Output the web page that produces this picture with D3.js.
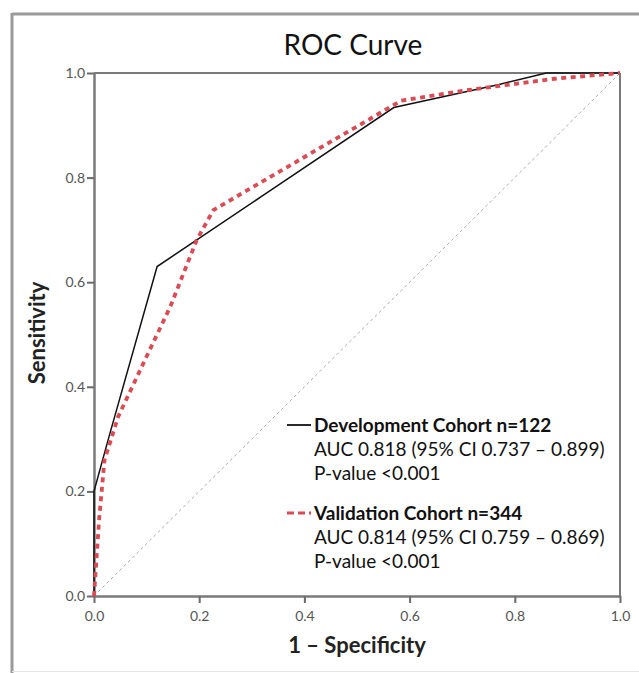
<!DOCTYPE html>
<html>
<head>
<meta charset="utf-8">
<script src="https://cdn.jsdelivr.net/npm/d3@7"></script>
<style>
  body { margin: 0; background: #fff; }
  text { font-family: Lato, "Open Sans", sans-serif; }
</style>
</head>
<body>
<div id="roc-chart"></div>
<script>
// ROC points (1 - specificity, sensitivity)
const devFpr = [0, 0, 0.03, 0.12, 0.32, 0.57, 0.77, 0.86, 1.0];
const devTpr = [0, 0.20, 0.31, 0.63, 0.765, 0.934, 0.978, 1.0, 1.0];

const valFpr = [0, 0.01, 0.02, 0.046, 0.10, 0.145, 0.195, 0.227, 0.584, 0.70, 0.875, 1.0];
const valTpr = [0, 0.15, 0.26, 0.343, 0.458, 0.553, 0.68, 0.738, 0.947, 0.966, 0.989, 1.0];

const tickValues = [0, 0.2, 0.4, 0.6, 0.8, 1.0];

const legendLines = [
  ['Development Cohort n=122', 'AUC 0.818 (95% CI 0.737 \u2013 0.899)', 'P-value <0.001'],
  ['Validation Cohort n=344', 'AUC 0.814 (95% CI 0.759 \u2013 0.869)', 'P-value <0.001']
];

const width = 639;
const height = 673;
const plot = { left: 94, right: 620, top: 73, bottom: 596 };

const svg = d3.select('#roc-chart')
  .append('svg')
  .attr('width', width)
  .attr('height', height);

// outer frame of the figure
svg.append('line')
  .attr('x1', 12).attr('y1', 13).attr('x2', 12).attr('y2', 673)
  .attr('stroke', '#9a9a9a').attr('stroke-width', 3);
svg.append('line')
  .attr('x1', 12).attr('y1', 14).attr('x2', 639).attr('y2', 14)
  .attr('stroke', '#9a9a9a').attr('stroke-width', 3);
svg.append('line')
  .attr('x1', 12).attr('y1', 671.5).attr('x2', 639).attr('y2', 671.5)
  .attr('stroke', '#e4e4e4').attr('stroke-width', 1);

const x = d3.scaleLinear().domain([0, 1]).range([plot.left, plot.right]);
const y = d3.scaleLinear().domain([0, 1]).range([plot.bottom, plot.top]);

// top and right frame of the plot
svg.append('line')
  .attr('x1', x(0)).attr('y1', y(1)).attr('x2', x(1)).attr('y2', y(1))
  .attr('stroke', '#7a7a7a').attr('stroke-width', 2);
svg.append('line')
  .attr('x1', x(1)).attr('y1', y(1)).attr('x2', x(1)).attr('y2', y(0))
  .attr('stroke', '#7a7a7a').attr('stroke-width', 2);

const xAxis = svg.append('g')
  .attr('transform', `translate(0,${plot.bottom})`)
  .call(d3.axisBottom(x).tickValues(tickValues).tickFormat(d3.format('.1f')).tickSize(7).tickSizeOuter(0));

const yAxis = svg.append('g')
  .attr('transform', `translate(${plot.left},0)`)
  .call(d3.axisLeft(y).tickValues(tickValues).tickFormat(d3.format('.1f')).tickSize(7).tickSizeOuter(0));

[xAxis, yAxis].forEach(a => {
  a.select('.domain').attr('stroke', '#7a7a7a').attr('stroke-width', 2.5);
  a.selectAll('.tick line').attr('stroke', '#6a6a6a').attr('stroke-width', 2);
  a.selectAll('.tick text')
    .attr('fill', '#555')
    .style('font-family', 'Lato, sans-serif')
    .attr('font-size', '14px');
});
xAxis.selectAll('.tick text').attr('dy', '1.1em');
yAxis.selectAll('.tick text').attr('x', -9);

// chance diagonal
svg.append('line')
  .attr('x1', x(0)).attr('y1', y(0)).attr('x2', x(1)).attr('y2', y(1))
  .attr('stroke', '#aaa').attr('stroke-width', 1)
  .attr('stroke-dasharray', '3,3');

const line = d3.line()
  .x(d => x(d[0]))
  .y(d => y(d[1]));

const devData = devFpr.map((v, i) => [v, devTpr[i]]);
const valData = valFpr.map((v, i) => [v, valTpr[i]]);

svg.append('path')
  .datum(devData)
  .attr('fill', 'none')
  .attr('stroke', '#111')
  .attr('stroke-width', 1.5)
  .attr('d', line);

svg.append('path')
  .datum(valData)
  .attr('fill', 'none')
  .attr('stroke', '#dc4a53')
  .attr('stroke-width', 3.8)
  .attr('stroke-dasharray', '5,4.5')
  .attr('d', line);

// title
svg.append('text')
  .attr('x', 353)
  .attr('y', 55)
  .attr('text-anchor', 'middle')
  .attr('font-size', '28px')
  .attr('fill', '#111')
  .text('ROC Curve');

// axis titles
svg.append('text')
  .attr('x', 357)
  .attr('y', 653)
  .attr('text-anchor', 'middle')
  .attr('font-size', '22px')
  .attr('font-weight', 'bold')
  .attr('fill', '#222')
  .text('1 \u2013 Specificity');

svg.append('text')
  .attr('transform', 'rotate(-90)')
  .attr('x', -333)
  .attr('y', 45)
  .attr('text-anchor', 'middle')
  .attr('font-size', '22px')
  .attr('font-weight', 'bold')
  .attr('fill', '#222')
  .text('Sensitivity');

// legend
const legendTop = [425, 513];
const legendStyle = [
  { stroke: '#111', width: 1.8, dash: null },
  { stroke: '#dc4a53', width: 3, dash: '7,4' }
];

legendLines.forEach((lines, i) => {
  const g = svg.append('g').attr('transform', `translate(0,${legendTop[i]})`);
  g.append('line')
    .attr('x1', 287).attr('x2', 311)
    .attr('y1', 0).attr('y2', 0)
    .attr('stroke', legendStyle[i].stroke)
    .attr('stroke-width', legendStyle[i].width)
    .attr('stroke-dasharray', legendStyle[i].dash);
  lines.forEach((t, j) => {
    g.append('text')
      .attr('x', 314)
      .attr('y', j * 24 + 7)
      .attr('font-size', '19px')
      .attr('font-weight', j === 0 ? 'bold' : 'normal')
      .attr('fill', '#111')
      .text(t);
  });
});
</script>
</body>
</html>
